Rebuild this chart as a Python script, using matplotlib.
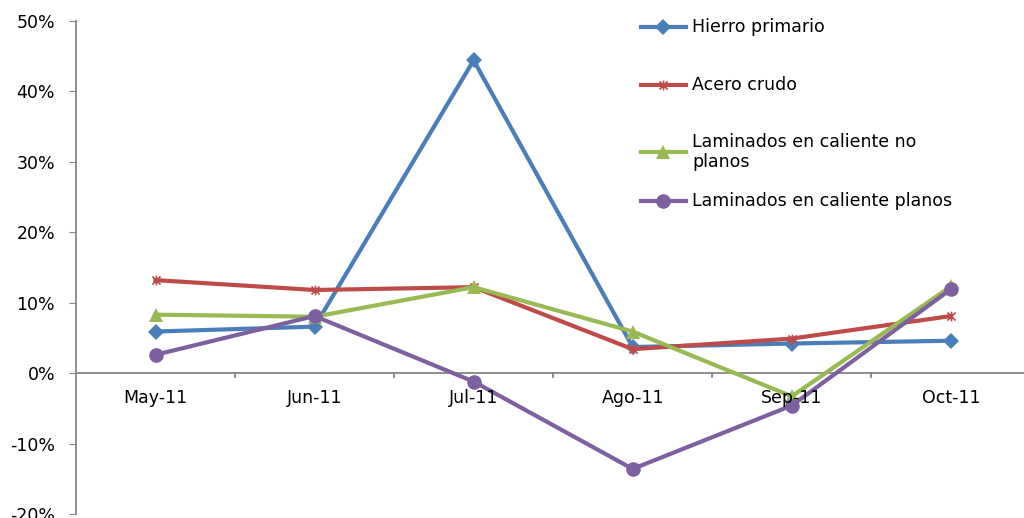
import matplotlib

matplotlib.use("Agg")
import matplotlib.pyplot as plt
from matplotlib.lines import Line2D
from matplotlib.path import Path
import matplotlib.ticker as ticker

# Data
months = ["May-11", "Jun-11", "Jul-11", "Ago-11", "Sep-11", "Oct-11"]
hierro_primario = [5.9, 6.6, 44.4, 3.7, 4.2, 4.6]
acero_crudo = [13.2, 11.8, 12.2, 3.4, 4.9, 8.1]
lam_no_planos = [8.3, 8.0, 12.2, 5.9, -3.3, 12.3]
lam_planos = [2.6, 8.1, -1.2, -13.6, -4.6, 11.9]

labels = [
    "Hierro primario",
    "Acero crudo",
    "Laminados en caliente no\nplanos",
    "Laminados en caliente planos",
]

# Excel style star marker: X plus a vertical bar
star = Path(
    [(-1, -1), (1, 1), (-1, 1), (1, -1), (0, -1.2), (0, 1.2)],
    [Path.MOVETO, Path.LINETO, Path.MOVETO, Path.LINETO, Path.MOVETO, Path.LINETO],
)

styles = [
    {"color": "#4A7EBB", "marker": "D", "ms": 8.5, "mew": 0},
    {"color": "#BE4B48", "marker": star, "ms": 7, "mew": 1.2},
    {"color": "#98B954", "marker": "^", "ms": 10.5, "mew": 0},
    {"color": "#7D60A0", "marker": "o", "ms": 10.5, "mew": 0},
]
series = [hierro_primario, acero_crudo, lam_no_planos, lam_planos]

plt.rcParams["font.family"] = "DejaVu Sans"
fs = 12.5
fig = plt.figure(figsize=(10.24, 5.18), dpi=100)
ax = fig.add_axes([0.0742, 0.0077, 0.932, 0.952])

x = list(range(len(months)))
for vals, st in zip(series, styles):
    ax.plot(
        x,
        [v / 100 for v in vals],
        color=st["color"],
        lw=3,
        marker=st["marker"],
        ms=st["ms"],
        mew=st["mew"],
        mfc=st["color"],
        mec=st["color"],
        zorder=3,
    )

ax.set_xlim(-0.5, 5.5)
ax.set_ylim(-0.2, 0.5)
ax.yaxis.set_major_locator(ticker.MultipleLocator(0.1))
ax.yaxis.set_major_formatter(ticker.FuncFormatter(lambda v, p: f"{v * 100:.0f}%"))

for s in ["top", "right", "bottom"]:
    ax.spines[s].set_visible(False)
ax.spines["left"].set_color("#868686")
ax.spines["left"].set_linewidth(1.3)
ax.axhline(0, color="#868686", lw=1.3, zorder=2)

ax.tick_params(axis="y", direction="out", length=5, color="#868686", pad=10, labelsize=fs)
ax.set_xticks(x)
ax.set_xticklabels([])
ax.tick_params(axis="x", length=0)
for i in range(5):
    ax.plot([i + 0.5, i + 0.5], [0, -0.006], color="#868686", lw=1.3, clip_on=False)
for i, m in enumerate(months):
    ax.text(i, -0.036, m, ha="center", va="center", fontsize=fs)

# legend drawn by hand to match the uneven spacing
leg_y = [27, 85, 152, 201]
for lab, st, yy in zip(labels, styles, leg_y):
    fy = 1 - yy / 518
    fig.add_artist(
        Line2D(
            [641 / 1024, 663 / 1024, 686 / 1024],
            [fy, fy, fy],
            color=st["color"],
            lw=3,
            marker=st["marker"],
            ms=st["ms"],
            mew=st["mew"],
            mfc=st["color"],
            mec=st["color"],
            markevery=[1],
        )
    )
    fig.text(692 / 1024, fy, lab, ha="left", va="center", fontsize=fs, linespacing=1.15)

fig.savefig("out.png", dpi=100)
